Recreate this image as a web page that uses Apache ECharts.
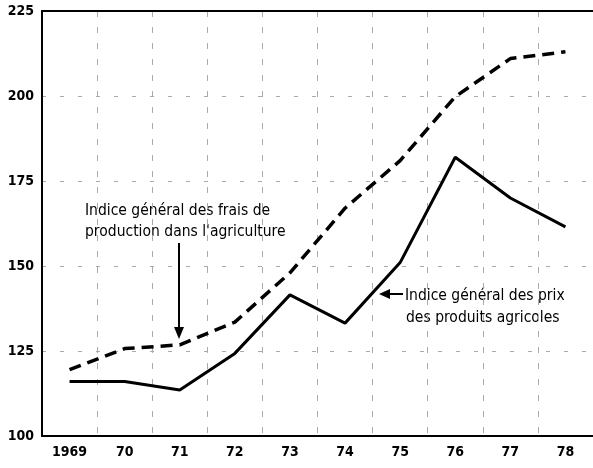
<!DOCTYPE html>
<html>
<head>
<meta charset="utf-8">
<script src="https://cdn.jsdelivr.net/npm/echarts@6/dist/echarts.min.js"></script>
<style>
  html, body { margin: 0; padding: 0; background: #fff; }
  #chart { width: 593px; height: 468px; }
</style>
</head>
<body>
<div id="chart"></div>
<script>
const years = ['1969', '70', '71', '72', '73', '74', '75', '76', '77', '78'];
const yTicks = [100, 125, 150, 175, 200, 225];
// Indice général des frais de production dans l'agriculture (dashed)
const productionCosts = [119.5, 125.7, 126.8, 133.5, 148, 167, 181, 199.8, 211, 213];
// Indice général des prix des produits agricoles (solid)
const producerPrices = [116, 116, 113.5, 124.3, 141.5, 133.2, 151, 182, 170, 161.5];

const font = '"DejaVu Sans Condensed", "DejaVu Sans", sans-serif';
const labelStyle = { fontFamily: font, fontSize: 14, fontWeight: 'bold', color: '#000' };
const noteStyle = { fontFamily: font, fontSize: 15.5, fill: '#000' };

let chart = echarts.init(document.getElementById('chart'));

let option = {
  animation: false,
  backgroundColor: '#fff',
  grid: { left: 42, top: 11, right: 0, bottom: 32 },
  xAxis: [{
    type: 'category',
    data: years,
    boundaryGap: true,
    axisLine: { lineStyle: { color: '#000', width: 2 } },
    axisTick: { show: false },
    axisLabel: Object.assign({ margin: 9 }, labelStyle),
    splitLine: { show: true, lineStyle: { color: '#aaa', width: 1, type: [6, 10] } }
  }, {
    type: 'category',
    data: years,
    position: 'top',
    axisLine: { lineStyle: { color: '#000', width: 2 } },
    axisTick: { show: false },
    axisLabel: { show: false },
    splitLine: { show: false }
  }],
  yAxis: [{
    type: 'value',
    min: yTicks[0],
    max: yTicks[yTicks.length - 1],
    interval: 25,
    axisLine: { show: true, lineStyle: { color: '#000', width: 2 } },
    axisTick: { show: false },
    axisLabel: Object.assign({ margin: 8 }, labelStyle),
    splitLine: { show: true, lineStyle: { color: '#aaa', width: 1, type: [4, 14] } }
  }],
  series: [
    {
      name: 'frais de production',
      type: 'line',
      data: productionCosts,
      symbol: 'none',
      lineStyle: { color: '#000', width: 3.5, type: [12, 7] }
    },
    {
      name: 'prix des produits agricoles',
      type: 'line',
      data: producerPrices,
      symbol: 'none',
      lineStyle: { color: '#000', width: 3 }
    }
  ],
  graphic: [
    { type: 'text', left: 85, top: 203, style: Object.assign({ text: 'Indice général des frais de' }, noteStyle) },
    { type: 'text', left: 85, top: 224, style: Object.assign({ text: "production dans l'agriculture" }, noteStyle) },
    { type: 'line', shape: { x1: 179, y1: 243, x2: 179, y2: 332 }, style: { stroke: '#000', lineWidth: 2 } },
    { type: 'polygon', shape: { points: [[174, 327], [184, 327], [179, 339]] }, style: { fill: '#000' } },
    { type: 'text', left: 405, top: 288, style: Object.assign({ text: 'Indice général des prix' }, noteStyle) },
    { type: 'text', left: 406, top: 310, style: Object.assign({ text: 'des produits agricoles' }, noteStyle) },
    { type: 'line', shape: { x1: 386, y1: 294, x2: 403, y2: 294 }, style: { stroke: '#000', lineWidth: 2 } },
    { type: 'polygon', shape: { points: [[379, 294], [390, 289], [390, 299]] }, style: { fill: '#000' } }
  ]
};

chart.setOption(option);
</script>
</body>
</html>
